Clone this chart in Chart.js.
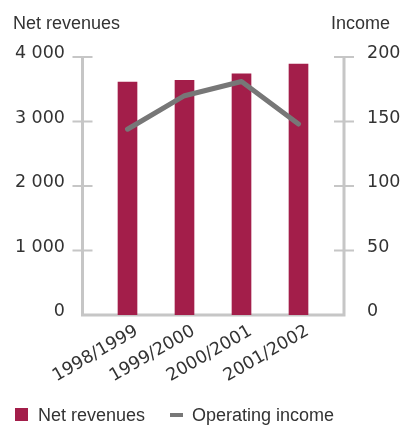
<!DOCTYPE html>
<html>
<head>
<meta charset="utf-8">
<script src="https://cdn.jsdelivr.net/npm/chart.js@4.4.1/dist/chart.umd.min.js"></script>
<style>
body { margin: 0; background: #fff; font-family: "Liberation Sans", Arial, sans-serif; color: #333; }
#wrap { position: relative; width: 403px; height: 425px; }
#wrap canvas { position: absolute; left: 0; top: 0; }
.txt { position: absolute; font-size: 18px; line-height: 18px; white-space: nowrap; }
.box { position: absolute; }
</style>
</head>
<body>
<div id="wrap">
  <canvas id="revChart" width="403" height="425"></canvas>
  <div class="txt" style="left:13px;top:14px">Net revenues</div>
  <div class="txt" style="right:13px;top:14px">Income</div>
  <div class="box" style="left:15px;top:408px;width:13px;height:13px;background:#a31e4a"></div>
  <div class="txt" style="left:38px;top:406px">Net revenues</div>
  <div class="box" style="left:170px;top:413px;width:13px;height:4px;background:#777"></div>
  <div class="txt" style="left:192px;top:406px">Operating income</div>
</div>
<script>
const years = ['1998/1999', '1999/2000', '2000/2001', '2001/2002'];
const netRevenues = [3610, 3640, 3740, 3890];
const operatingIncome = [144, 170, 181, 148];
const revTicks = [0, 1000, 2000, 3000, 4000];
const incTicks = [0, 50, 100, 150, 200];

const barColor = '#a31e4a';
const lineColor = '#777777';
const frameColor = '#c6c6c6';
const numFont = { family: '"DejaVu Sans", sans-serif', size: 17.5 };

// thousands with a space: 4 000
function spaced(v) {
	return String(v).replace(/\B(?=(\d{3})+(?!\d))/g, ' ');
}

// draws the open box and the T ticks round the plot
const framePlugin = {
	id: 'frame',
	beforeDatasetsDraw(chart) {
		const ctx = chart.ctx;
		const area = chart.chartArea;
		const yl = chart.scales.y;
		const yr = chart.scales.y1;
		const L = area.left - 16.5;
		const R = area.right + 17;
		const top = yl.getPixelForValue(revTicks[revTicks.length - 1]);
		const bottom = yl.getPixelForValue(0);
		ctx.save();
		ctx.strokeStyle = frameColor;
		ctx.lineWidth = 3;
		ctx.beginPath();
		ctx.moveTo(L, top);
		ctx.lineTo(L, bottom);
		ctx.lineTo(R, bottom);
		ctx.lineTo(R, yr.getPixelForValue(incTicks[incTicks.length - 1]));
		ctx.stroke();
		ctx.lineWidth = 2;
		ctx.beginPath();
		revTicks.forEach(function(v) {
			if (v === 0) return;
			const y = yl.getPixelForValue(v);
			ctx.moveTo(L - 10, y);
			ctx.lineTo(L + 10, y);
		});
		incTicks.forEach(function(v) {
			if (v === 0) return;
			const y = yr.getPixelForValue(v);
			ctx.moveTo(R - 10, y);
			ctx.lineTo(R + 10, y);
		});
		ctx.stroke();
		ctx.restore();
	}
};

const ctx = document.getElementById('revChart').getContext('2d');
const myChart = new Chart(ctx, {
	type: 'bar',
	data: {
		labels: years,
		datasets: [
			{
				type: 'line',
				label: 'Operating income',
				data: operatingIncome,
				yAxisID: 'y1',
				borderColor: lineColor,
				borderWidth: 5,
				borderCapStyle: 'round',
				borderJoinStyle: 'round',
				pointRadius: 0,
				tension: 0,
				fill: false,
				order: 0
			},
			{
				label: 'Net revenues',
				data: netRevenues,
				yAxisID: 'y',
				backgroundColor: barColor,
				barThickness: 19,
				order: 1
			}
		]
	},
	options: {
		responsive: false,
		animation: false,
		layout: { padding: { top: 57, left: 0, right: 0, bottom: 0 } },
		plugins: {
			legend: { display: false },
			tooltip: { enabled: false }
		},
		scales: {
			x: {
				grid: { display: false, drawTicks: false },
				border: { display: true, color: '#999', width: 1.5 },
				ticks: {
					color: '#333',
					font: numFont,
					minRotation: 30,
					maxRotation: 30,
					padding: 6,
					labelOffset: 9
				},
				afterFit(scale) { scale.height = 110; }
			},
			y: {
				position: 'left',
				min: 0,
				max: 4000,
				grid: { display: false, drawTicks: false },
				border: { display: false },
				ticks: {
					stepSize: 1000,
					padding: 34,
					labelOffset: -3.5,
					color: '#333',
					font: numFont,
					callback: function(v) { return spaced(v); }
				},
				afterFit(scale) { scale.width = 99; }
			},
			y1: {
				position: 'right',
				min: 0,
				max: 200,
				grid: { display: false, drawTicks: false },
				border: { display: false },
				ticks: {
					stepSize: 50,
					padding: 40,
					labelOffset: -3.5,
					color: '#333',
					font: numFont
				},
				afterFit(scale) { scale.width = 76; }
			}
		}
	},
	plugins: [framePlugin]
});
</script>
</body>
</html>
